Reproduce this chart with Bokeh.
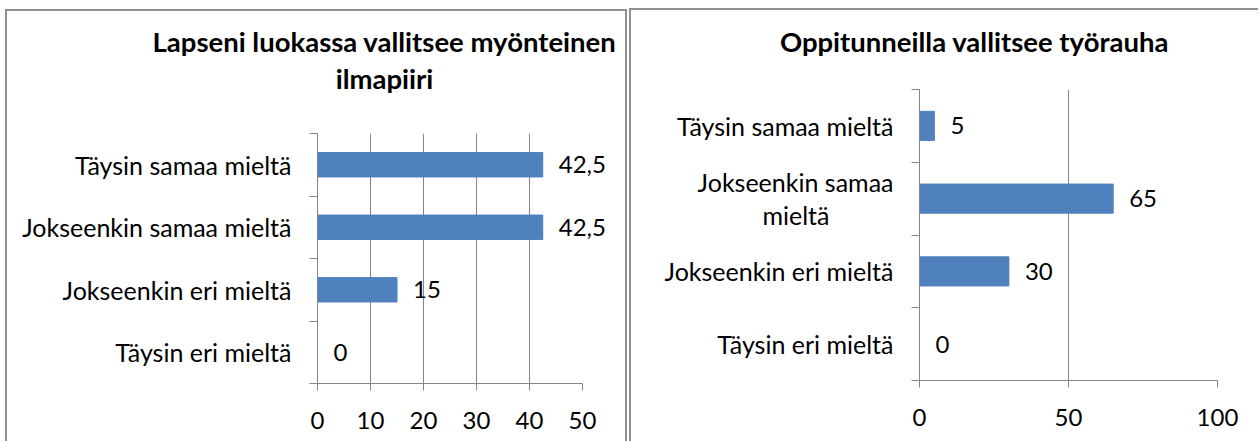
from bokeh.plotting import figure
from bokeh.layouts import row
from bokeh.models import FixedTicker, ColumnDataSource
from bokeh.embed import file_html
from bokeh.resources import INLINE
from bokeh.core.properties import value

# ---- data ----
left_title_lines = ["Lapseni luokassa vallitsee myönteinen", "ilmapiiri"]
left_categories = ["Täysin eri mieltä", "Jokseenkin eri mieltä",
                   "Jokseenkin samaa mieltä", "Täysin samaa mieltä"]
left_values = [0, 15, 42.5, 42.5]
left_ticks = [0, 10, 20, 30, 40, 50]

right_title_lines = ["Oppitunneilla vallitsee työrauha"]
right_categories = ["Täysin eri mieltä", "Jokseenkin eri mieltä",
                    "Jokseenkin samaa\nmieltä" + "\u00a0" * 10, "Täysin samaa mieltä"]
right_values = [0, 30, 65, 5]
right_ticks = [0, 50, 100]

FONT = "Lato"
GRAY = "#868686"
BAR = "#4F81BD"


def fmt(v):
    return f"{v:g}".replace(".", ",")


def panel(cats, vals, ticks, title_lines, L):
    """L: layout in page pixels (canvas origin, frame box, title placement)."""
    ox, oy = L["origin"]
    fl, fr, ft, fb = L["frame"]
    width, height = L["size"]
    p = figure(width=width, height=height, x_range=(ticks[0], ticks[-1]),
               y_range=(0, len(cats)), output_backend="svg",
               toolbar_location=None,
               min_border_left=fl - ox, min_border_right=ox + width - fr,
               min_border_top=ft - oy, min_border_bottom=oy + height - fb)
    p.frame_align = False
    p.outline_line_color = None
    p.background_fill_color = "white"
    p.border_fill_color = "white"
    centers = [i + 0.5 for i in range(len(cats))]
    src = ColumnDataSource(dict(y=centers, v=vals, lab=[fmt(v) for v in vals]))
    p.hbar(y="y", right="v", left=0, height=L["bar_h"], source=src,
           fill_color=BAR, line_color=BAR)
    t = p.text(x="v", y="y", text="lab", source=src, x_offset=16,
               text_font=value(FONT), text_font_size="24px",
               text_align="left", text_baseline="middle", text_color="black")
    t.level = "overlay"

    # chart title, placed in the top border area (page-pixel layout -> data)
    x_span = ticks[-1] - ticks[0]
    tx = ticks[0] + (L["title_x"] - fl) / (fr - fl) * x_span
    ty = [(fb - yy) / (fb - ft) * len(cats) for yy in L["title_y"]]
    tt = p.text(x=[tx] * len(title_lines), y=ty, text=title_lines,
                text_font=value(FONT), text_font_style="bold",
                text_font_size="27.5px", text_align="center",
                text_baseline="middle", text_color="black")
    tt.level = "overlay"

    xa = p.xaxis[0]
    xa.ticker = FixedTicker(ticks=ticks)
    xa.axis_line_color = GRAY
    xa.major_tick_line_color = GRAY
    xa.major_tick_out = 7
    xa.major_tick_in = 0
    xa.minor_tick_line_color = None
    xa.major_label_text_font = FONT
    xa.major_label_text_font_size = "24px"
    xa.major_label_text_color = "black"
    xa.major_label_standoff = 21

    ya = p.yaxis[0]
    ya.ticker = FixedTicker(ticks=centers, minor_ticks=list(range(len(cats) + 1)))
    ya.major_label_overrides = {c: t for c, t in zip(centers, cats)}
    ya.axis_line_color = GRAY
    ya.major_tick_line_color = None
    ya.major_tick_out = 0
    ya.major_tick_in = 0
    ya.minor_tick_line_color = GRAY
    ya.minor_tick_out = 8
    ya.minor_tick_in = 0
    ya.major_label_text_font = FONT
    ya.major_label_text_font_size = "25px"
    ya.major_label_text_color = "black"
    ya.major_label_text_line_height = 1.1
    ya.major_label_standoff = 18

    p.ygrid.grid_line_color = None
    p.xgrid.ticker = FixedTicker(ticks=ticks)
    p.xgrid.grid_line_color = GRAY
    p.xgrid.grid_line_width = 1

    b = "2px solid #8f8f8f"
    st = {"border-top": b, "border-left": b}
    if L["border_right"]:
        st["border-right"] = b
    p.styles = st
    p.margin = L["margin"]
    return p


LEFT = dict(origin=(7, 11), size=(622, 432), frame=(317, 582, 133, 383),
            bar_h=0.39, title_x=384, title_y=[41, 78], margin=(9, 0, 0, 5),
            border_right=True)
RIGHT = dict(origin=(631, 10), size=(629, 433), frame=(919, 1217, 89, 380),
             bar_h=0.4, title_x=974, title_y=[41], margin=(8, 0, 0, 2),
             border_right=False)

left = panel(left_categories, left_values, left_ticks, left_title_lines, LEFT)
right = panel(right_categories, right_values, right_ticks, right_title_lines, RIGHT)

layout = row(left, right, spacing=0)
open("out.html", "w").write(file_html(layout, INLINE))
